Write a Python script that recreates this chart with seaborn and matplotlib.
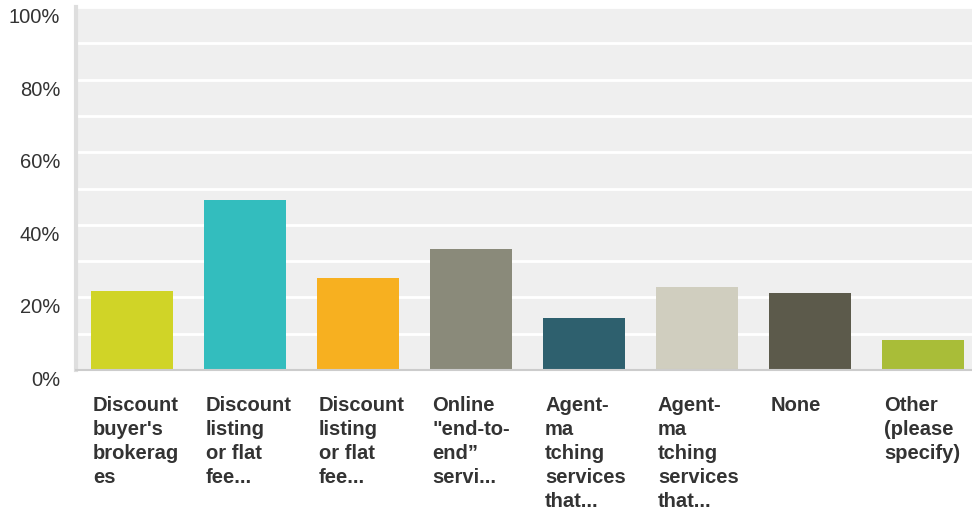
import numpy as np
import pandas as pd
import matplotlib
matplotlib.use("Agg")
import matplotlib.pyplot as plt
import matplotlib.transforms as mtransforms
import seaborn as sns

codes = ["A1", "A2", "A3", "A4", "A5", "A6", "A7", "A8"]
labels = [
    "Discount\nbuyer's\nbrokerag\nes",
    "Discount\nlisting\nor flat\nfee...",
    "Discount\nlisting\nor flat\nfee...",
    "Online\n\"end-to-\nend\u201d\nservi...",
    "Agent-\nma\ntching\nservices\nthat...",
    "Agent-\nma\ntching\nservices\nthat...",
    "None",
    "Other\n(please\nspecify)",
]
values = [21.8, 46.8, 25.3, 33.3, 14.3, 22.9, 21.2, 8.3]
colors = ["#D0D427", "#33BDBE", "#F7B020", "#8A8A7A",
          "#2E606E", "#D0CEBF", "#5C5A4B", "#A9BD38"]

df = pd.DataFrame({"code": codes, "pct": values})

sns.set_style("white")
plt.rcParams["font.family"] = ["Liberation Sans", "DejaVu Sans"]

fig = plt.figure(figsize=(9.72, 5.10), dpi=100)
# axes run a little past the right edge, like the original
ax = fig.add_axes([75.5 / 972, 139 / 510, 904 / 972, 363 / 510])
ax.set_facecolor("#EFEFEF")

bar_w = 0.73
sns.barplot(data=df, x="code", y="pct", hue="code", order=codes,
            palette=dict(zip(codes, colors)), legend=False,
            width=bar_w, saturation=1, linewidth=0, ax=ax, zorder=3)

ax.set_ylim(0, 100)
ax.set_xlim(-0.5, len(codes) - 0.5)
ax.set_yticks(range(0, 101, 20))
ax.set_yticks(range(10, 100, 20), minor=True)
ax.set_yticklabels([f"{v}%" for v in range(0, 101, 20)])
ax.yaxis.grid(True, which="both", color="white", linewidth=2, zorder=1)
ax.set_axisbelow(True)
ax.tick_params(axis="y", which="both", length=0, pad=11,
               labelsize=14.5, labelcolor="#333333")

ax.set_xticks(range(len(codes)))
ax.set_xticklabels(labels, ha="left", va="top", fontweight="bold",
                   fontsize=14.5, color="#333333", linespacing=1.33)
ax.tick_params(axis="x", length=0, pad=18)
ax.set_xlabel("")
ax.set_ylabel("")

# shift x labels to the left edge of the bars, y labels slightly down
dx = mtransforms.ScaledTranslation(-0.39, 0, fig.dpi_scale_trans)
for t in ax.get_xticklabels():
    t.set_transform(t.get_transform() + dx)
dy = mtransforms.ScaledTranslation(0, -0.075, fig.dpi_scale_trans)
for t in ax.get_yticklabels():
    t.set_transform(t.get_transform() + dy)

for side in ["top", "right"]:
    ax.spines[side].set_visible(False)
ax.spines["left"].set_color("#DEDEDE")
ax.spines["left"].set_linewidth(3)
ax.spines["bottom"].set_color("#CCCCCC")
ax.spines["bottom"].set_linewidth(1.5)
ax.spines["bottom"].set_zorder(4)

fig.savefig("out.png", dpi=100)
